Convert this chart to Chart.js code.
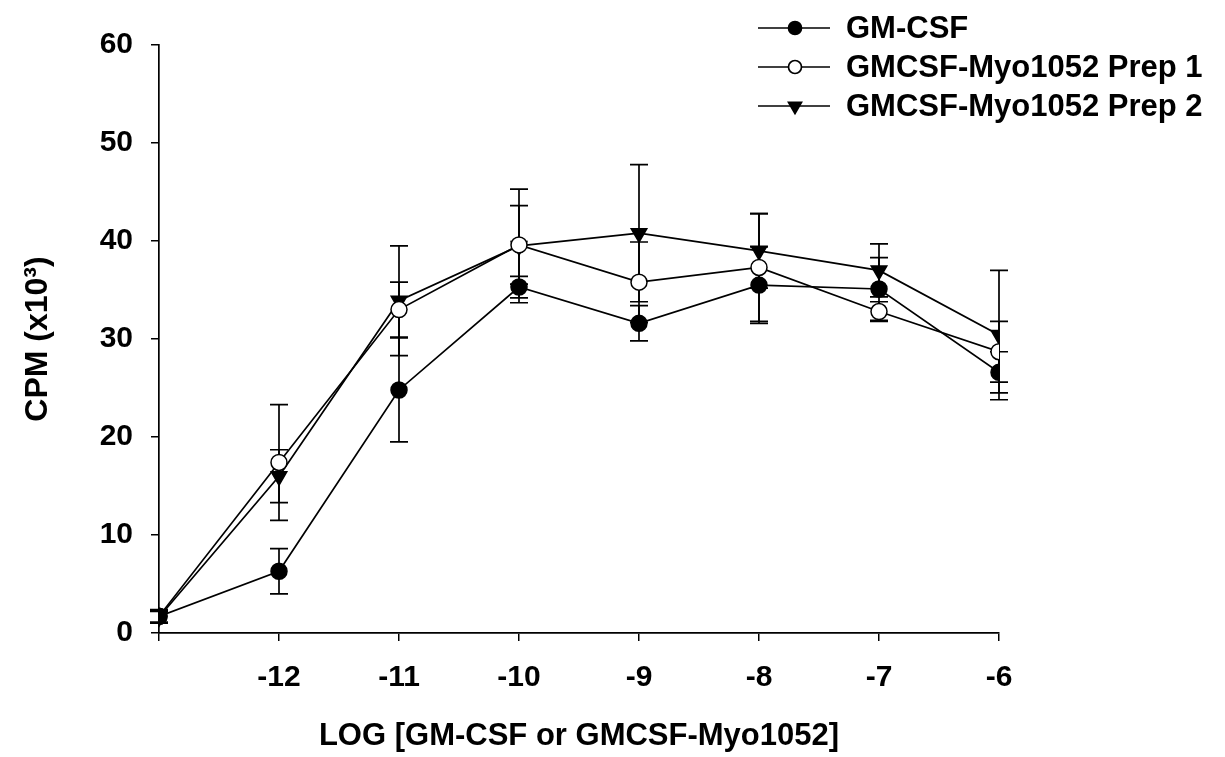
<!DOCTYPE html>
<html>
<head>
<meta charset="utf-8">
<script src="https://cdn.jsdelivr.net/npm/chart.js@4.4.1/dist/chart.umd.min.js"></script>
<style>
  html, body { margin: 0; padding: 0; background: #fff; }
  #wrap { width: 1225px; height: 757px; }
</style>
</head>
<body>
<div id="wrap"><canvas id="cpmChart" width="1225" height="757"></canvas></div>
<script>
// log concentration
const logConc = [-13, -12, -11, -10, -9, -8, -7, -6];

// CPM (x10^3) means and error bar half-widths
const gmcsf = [1.7, 6.3, 24.8, 35.3, 31.6, 35.5, 35.1, 26.6];
const gmcsfErr = [0.7, 2.3, 5.3, 1.1, 1.8, 3.9, 3.2, 2.1];
const prep1 = [1.7, 17.4, 33.0, 39.6, 35.8, 37.3, 32.8, 28.7];
const prep1Err = [0.6, 5.9, 2.8, 4.0, 4.1, 5.5, 1.0, 3.1];
const prep2 = [1.6, 16.0, 33.9, 39.5, 40.8, 39.0, 37.0, 30.4];
const prep2Err = [0.6, 2.7, 5.6, 5.8, 7.0, 3.8, 2.7, 6.6];

const seriesNames = ['GM-CSF', 'GMCSF-Myo1052 Prep 1', 'GMCSF-Myo1052 Prep 2'];
const yTicks = [0, 10, 20, 30, 40, 50, 60];

const FONT = 'Arial, "Liberation Sans", sans-serif';

function toPoints(values) {
  return values.map((v, i) => ({ x: logConc[i], y: v }));
}

// vertical error bars with caps, drawn under the markers
const errorBars = {
  id: 'errorBars',
  beforeDatasetsDraw(chart) {
    const { ctx, scales: { x, y } } = chart;
    ctx.save();
    ctx.strokeStyle = '#000';
    ctx.lineWidth = 1.7;
    chart.data.datasets.forEach(ds => {
      ds.data.forEach((p, i) => {
        const e = ds.errors[i];
        const px = x.getPixelForValue(p.x);
        const top = y.getPixelForValue(p.y + e);
        const bot = y.getPixelForValue(p.y - e);
        ctx.beginPath();
        ctx.moveTo(px, top);
        ctx.lineTo(px, bot);
        ctx.moveTo(px - 9, top);
        ctx.lineTo(px + 9, top);
        ctx.moveTo(px - 9, bot);
        ctx.lineTo(px + 9, bot);
        ctx.stroke();
      });
    });
    ctx.restore();
  }
};

// legend in the top right corner: line + marker + label
const sideLegend = {
  id: 'sideLegend',
  afterDraw(chart) {
    const { ctx } = chart;
    ctx.save();
    chart.data.datasets.forEach((ds, i) => {
      const yy = 28 + i * 39;
      ctx.strokeStyle = '#000';
      ctx.lineWidth = 1.7;
      ctx.beginPath();
      ctx.moveTo(758, yy);
      ctx.lineTo(830, yy);
      ctx.stroke();
      ctx.fillStyle = ds.pointBackgroundColor;
      Chart.helpers.drawPoint(ctx, {
        pointStyle: ds.pointStyle,
        rotation: ds.pointRotation || 0,
        radius: ds.pointRadius - 1.5,
        borderWidth: 1.5
      }, 795, yy);
      ctx.fillStyle = '#000';
      ctx.font = 'bold 31px ' + FONT;
      ctx.textBaseline = 'middle';
      ctx.textAlign = 'left';
      ctx.fillText(ds.label, 846, yy + 1);
    });
    ctx.restore();
  }
};

const common = {
  borderColor: '#000',
  borderWidth: 1.7,
  pointBorderColor: '#000',
  pointBorderWidth: 1.5,
  tension: 0,
  fill: false
};

new Chart(document.getElementById('cpmChart'), {
  type: 'line',
  data: {
    datasets: [
      Object.assign({}, common, {
        label: seriesNames[0],
        data: toPoints(gmcsf),
        errors: gmcsfErr,
        pointStyle: 'circle',
        pointRadius: 8,
        pointBackgroundColor: '#000'
      }),
      Object.assign({}, common, {
        label: seriesNames[1],
        data: toPoints(prep1),
        errors: prep1Err,
        pointStyle: 'circle',
        pointRadius: 8,
        pointBackgroundColor: '#fff'
      }),
      Object.assign({}, common, {
        label: seriesNames[2],
        data: toPoints(prep2),
        errors: prep2Err,
        pointStyle: 'triangle',
        pointRotation: 180,
        pointRadius: 9,
        pointBackgroundColor: '#000'
      })
    ]
  },
  options: {
    responsive: false,
    animation: false,
    layout: { padding: { top: 45, right: 226, bottom: 0, left: 0 } },
    plugins: {
      legend: { display: false },
      tooltip: { enabled: false }
    },
    scales: {
      x: {
        type: 'linear',
        min: logConc[0],
        max: logConc[logConc.length - 1],
        afterFit(scale) { scale.height = 124; },
        afterBuildTicks(scale) { scale.ticks = logConc.map(v => ({ value: v })); },
        ticks: {
          color: '#000',
          font: { family: FONT, size: 30, weight: 'bold' },
          padding: 19,
          maxRotation: 0,
          callback: v => (v === logConc[0] ? '' : v)
        },
        grid: { drawOnChartArea: false, tickLength: 8, color: '#000', lineWidth: 1.5 },
        border: { color: '#000', width: 1.7 },
        title: {
          display: true,
          text: 'LOG [GM-CSF or GMCSF-Myo1052]',
          color: '#000',
          font: { family: FONT, size: 31, weight: 'bold' },
          padding: { top: 0, bottom: 2 }
        }
      },
      y: {
        min: yTicks[0],
        max: yTicks[yTicks.length - 1],
        afterFit(scale) { scale.width = 159; },
        afterBuildTicks(scale) { scale.ticks = yTicks.map(v => ({ value: v })); },
        ticks: {
          color: '#000',
          font: { family: FONT, size: 30, weight: 'bold' },
          padding: 18
        },
        grid: { drawOnChartArea: false, tickLength: 8, color: '#000', lineWidth: 1.5 },
        border: { color: '#000', width: 1.7 },
        title: {
          display: true,
          text: 'CPM (x10³)',
          color: '#000',
          font: { family: FONT, size: 32, weight: 'bold' },
          padding: { top: 19, bottom: 0 }
        }
      }
    }
  },
  plugins: [errorBars, sideLegend]
});
</script>
</body>
</html>
